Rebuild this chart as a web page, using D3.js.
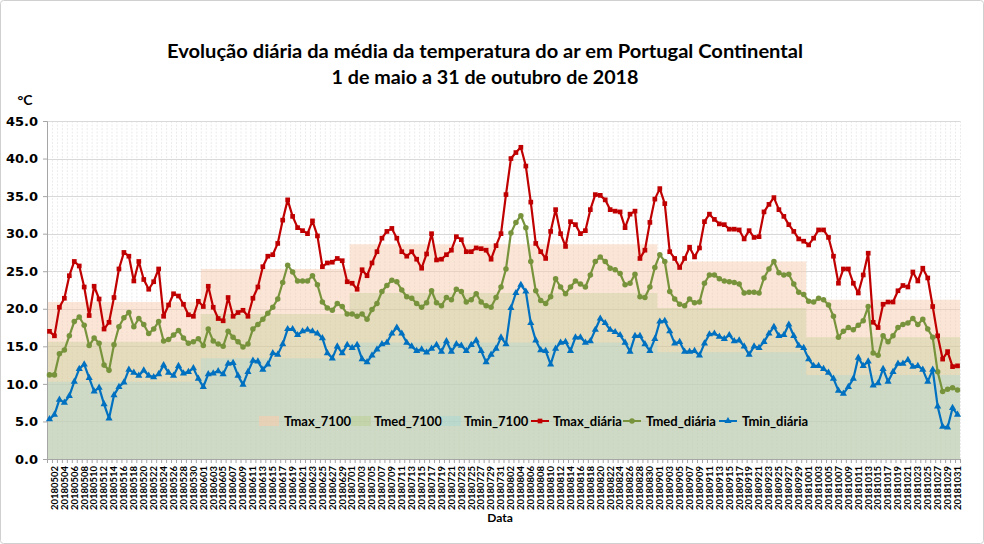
<!DOCTYPE html>
<html><head><meta charset="utf-8">
<script src="https://cdn.jsdelivr.net/npm/d3@7"></script>
<style>body{margin:0;background:#fff}svg{display:block}</style>
</head><body><svg id="c" width="984" height="544"></svg>
<script>
// ---- DATA ----
const months = ["201805","201806","201807","201808","201809","201810"];
const tmax7100 = [20.9, 25.3, 28.6, 28.6, 26.3, 21.2];
const tmed7100 = [15.6, 19.3, 22.1, 22.1, 20.1, 16.2];
const tmin7100 = [10.3, 13.4, 15.5, 15.5, 14.2, 11.2];

const tmaxDiaria = [
 17.0,16.4,20.2,21.4,24.4,26.3,25.7,22.9,19.1,23.0,21.3,17.3,18.2,21.5,25.3,27.5,27.0,23.7,26.3,23.9,22.6,23.6,25.3,19.0,20.5,22.0,21.7,20.6,19.2,19.0,21.0,
 20.3,23.0,20.2,18.7,18.4,21.5,19.0,19.5,19.8,19.0,21.4,22.9,25.6,27.0,27.2,28.7,31.8,34.5,32.3,30.8,30.4,30.0,31.7,29.7,25.6,26.1,26.2,26.7,26.4,23.6,
 23.4,22.6,25.2,24.4,26.1,27.6,29.4,30.3,30.7,29.4,27.6,27.0,27.6,26.6,25.4,27.3,30.0,26.5,26.6,27.2,27.8,29.6,29.2,27.6,27.6,28.1,28.0,27.8,26.6,28.4,30.0,
 35.2,40.0,40.8,41.5,39.0,34.2,28.7,27.6,26.7,30.3,33.2,30.0,28.3,31.6,31.2,30.0,30.4,33.2,35.2,35.1,34.5,33.2,33.0,32.9,30.8,32.6,33.0,26.7,27.8,31.5,34.6,
 36.0,34.0,27.6,26.7,25.5,26.7,28.2,26.9,28.1,31.6,32.6,31.9,31.3,31.2,30.6,30.6,30.5,29.3,30.4,29.5,29.6,32.9,33.9,34.8,33.2,32.3,31.2,30.3,29.3,29.0,
 28.5,29.4,30.5,30.5,29.5,27.0,23.4,25.3,25.3,23.4,22.1,24.5,27.4,18.2,17.5,20.6,20.9,20.9,22.4,23.1,22.9,24.9,23.7,25.4,24.1,20.3,16.4,13.3,14.3,12.3,12.4
];
const tmedDiaria = [
 11.2,11.2,14.0,14.5,16.4,18.3,18.9,17.8,15.1,16.1,15.4,12.5,11.8,15.2,17.6,18.8,19.5,17.6,18.7,17.9,16.7,17.3,18.3,15.7,15.9,16.5,17.1,16.1,15.4,15.6,16.0,
 15.1,17.3,15.7,15.3,15.0,17.0,16.2,15.6,14.9,15.3,17.3,17.9,18.6,19.4,20.2,21.3,23.5,25.8,24.9,23.7,23.7,23.7,24.4,23.2,20.9,20.1,19.8,20.7,20.3,19.3,
 19.3,19.0,19.3,18.6,19.9,20.7,22.3,23.1,23.8,23.6,22.5,21.6,21.4,20.7,20.2,20.8,22.4,20.8,20.4,21.5,21.2,22.6,22.3,20.9,21.2,22.0,20.9,20.4,20.2,21.5,22.9,
 25.3,30.1,31.5,32.4,30.8,26.3,22.4,21.1,20.7,21.6,24.0,22.9,22.0,22.9,23.7,23.3,22.9,24.5,26.3,26.9,26.3,25.4,25.2,24.7,23.2,23.4,24.6,21.6,21.5,22.9,25.5,
 27.2,26.3,22.3,21.3,20.6,20.4,21.3,20.8,20.9,23.4,24.5,24.5,24.0,23.7,23.6,23.5,23.3,22.1,22.2,22.2,22.1,24.1,25.3,26.3,24.8,24.5,24.6,23.3,22.2,21.9,
 21.0,20.9,21.4,21.2,20.5,19.0,16.2,17.0,17.5,17.2,17.8,18.4,20.3,14.1,13.8,16.4,15.6,16.4,17.5,17.9,18.1,18.7,17.9,18.6,17.3,16.2,11.6,9.0,9.3,9.5,9.2
];
const tminDiaria = [
 5.3,5.9,7.9,7.5,8.4,10.3,12.0,12.6,10.8,9.0,9.5,7.3,5.4,8.5,9.6,10.2,11.9,11.5,11.1,11.8,11.1,10.9,11.3,12.5,11.5,11.1,12.4,11.4,11.6,12.1,10.7,
 9.6,11.3,11.4,11.7,11.3,12.7,12.8,11.1,9.9,11.6,13.1,13.0,11.9,12.6,14.1,13.9,15.3,17.3,17.3,16.5,17.0,17.2,17.0,16.7,16.1,14.1,13.4,15.0,14.1,15.2,
 14.8,15.2,13.3,12.9,13.8,14.6,15.3,15.5,16.7,17.5,16.7,15.5,15.0,14.4,14.6,14.2,14.7,15.2,14.3,15.7,14.3,15.3,15.1,14.4,15.2,15.8,14.4,12.9,13.9,14.7,16.2,
 15.3,20.1,22.1,23.2,22.3,18.1,15.8,14.5,14.4,12.6,14.7,15.5,15.6,14.4,16.2,16.2,15.5,15.7,17.2,18.7,18.1,17.2,16.9,16.5,15.5,14.3,16.4,16.4,15.3,14.4,16.0,
 18.3,18.4,17.0,15.4,15.6,14.3,14.3,14.4,13.8,15.4,16.6,16.7,16.3,16.0,16.5,15.7,15.8,15.0,13.9,15.0,14.8,15.6,16.7,17.6,16.4,16.5,17.9,16.4,15.1,14.8,
 13.3,12.4,12.4,12.0,11.5,10.7,9.1,8.7,9.6,10.7,13.5,12.4,13.0,9.8,10.1,12.0,10.3,11.6,12.7,12.7,13.2,12.3,12.4,11.9,10.3,11.9,7.0,4.3,4.2,6.8,5.9
];
const yTicks = [0,5,10,15,20,25,30,35,40,45];
const titleLines = ["Evolução diária da média da temperatura do ar em Portugal Continental",
                    "1 de maio a 31 de outubro de 2018"];
const seriesNames = ["Tmax_7100","Tmed_7100","Tmin_7100","Tmax_diária","Tmed_diária","Tmin_diária"];

// categories: every day from 1 May to 31 Oct 2018
const cats = d3.timeDay.range(new Date(2018,4,1), new Date(2018,10,1)).map(d3.timeFormat("%Y%m%d"));

// ---- CHART ----
const svg = d3.select("#c");
const L = 47, R = 960, T = 121, B = 459;
const x = d3.scaleBand().domain(cats).range([L, R]).padding(0);
const bw = x.bandwidth();
const y = d3.scaleLinear().domain([0,45]).range([B, T]);
const cx = i => x(cats[i]) + bw/2;

svg.append("rect").attr("x",0.5).attr("y",0.5).attr("width",983).attr("height",543)
  .attr("rx",3).attr("fill","#fff").attr("stroke","#d0d0d0");

// gridlines
const g = svg.append("g");
g.selectAll("line.v").data(cats.slice(1).map(c=>x(c)).concat([R])).join("line")
  .attr("x1",d=>d+0.5).attr("x2",d=>d+0.5).attr("y1",T).attr("y2",B)
  .attr("stroke","#e2e2e2").attr("stroke-width",0.7).attr("stroke-dasharray","2,1.5");
g.selectAll("line.h").data(yTicks.filter(v=>v>0)).join("line")
  .attr("x1",L).attr("x2",R).attr("y1",d=>Math.round(y(d))+0.5).attr("y2",d=>Math.round(y(d))+0.5)
  .attr("stroke","#d9d9d9").attr("stroke-width",1);

// normal areas (monthly steps)
function stepPts(vals){
  const pts = [];
  months.forEach((m,i)=>{
    const mc = cats.filter(c=>c.startsWith(m));
    pts.push([x(mc[0]), vals[i]]);
    pts.push([x(mc[mc.length-1]) + bw, vals[i]]);
  });
  return pts;
}
const area = d3.area().x(d=>d[0]).y0(y(0)).y1(d=>y(d[1]));
const areaStyles = [
  {vals:tmax7100, fill:"#f8cbad", op:0.5},
  {vals:tmed7100, fill:"#b9cb8c", op:0.35},
  {vals:tmin7100, fill:"#a5d7d7", op:0.35}
];
areaStyles.forEach(s=>{
  svg.append("path").attr("d", area(stepPts(s.vals))).attr("fill",s.fill).attr("fill-opacity",s.op);
});

// axes
const yAxis = svg.append("g").attr("transform",`translate(${L},0)`)
  .call(d3.axisLeft(y).tickValues(yTicks).tickFormat(d3.format(".1f")).tickSize(4).tickPadding(5));
yAxis.select(".domain").attr("stroke","#a6a6a6");
yAxis.selectAll(".tick line").attr("stroke","#a6a6a6");
yAxis.selectAll("text").attr("font-family","DejaVu Sans").attr("font-weight","bold")
  .attr("font-size",13).attr("fill","#000");

const xAxis = svg.append("g").attr("transform",`translate(0,${B})`);
xAxis.append("line").attr("x1",L).attr("x2",R).attr("y1",0.5).attr("y2",0.5).attr("stroke","#a6a6a6");
xAxis.selectAll("line.t").data(cats.map(c=>x(c)).concat([R])).join("line")
  .attr("x1",d=>d+0.5).attr("x2",d=>d+0.5).attr("y1",0).attr("y2",4).attr("stroke","#a6a6a6");
const xl = svg.append("g").attr("transform",`translate(0,${B})`)
  .call(d3.axisBottom(x).tickValues(cats.filter((c,i)=>i%2===1)).tickSize(0).tickPadding(0));
xl.select(".domain").remove();
xl.selectAll("text").attr("transform","rotate(-90)").attr("text-anchor","end")
  .attr("x",-7).attr("y",0).attr("dy","0.35em")
  .attr("font-family","Lato").attr("font-weight","bold").attr("font-size",9.5).attr("fill","#000");

// lines + markers
const line = d3.line().x((d,i)=>cx(i)).y(d=>y(d));
const series = [
  {vals:tmaxDiaria, color:"#c00000", sym:d3.symbolSquare, size:22},
  {vals:tmedDiaria, color:"#77933c", sym:d3.symbolCircle, size:24},
  {vals:tminDiaria, color:"#0070c0", sym:d3.symbolTriangle, size:22}
];
series.forEach(s=>{
  svg.append("path").attr("d",line(s.vals)).attr("fill","none").attr("stroke",s.color)
    .attr("stroke-width",2.2).attr("stroke-linejoin","round");
  svg.append("g").selectAll("path").data(s.vals).join("path")
    .attr("transform",(d,i)=>`translate(${cx(i)},${y(d)})`)
    .attr("d",d3.symbol().type(s.sym).size(s.size)).attr("fill",s.color);
});

// legend
const lg = svg.append("g").attr("font-family","Lato").attr("font-weight","bold").attr("font-size",13).attr("fill","#000");
const ly = 421;
const sw = [{x:259,name:seriesNames[0],st:areaStyles[0],tx:284},
            {x:351,name:seriesNames[1],st:areaStyles[1],tx:374},
            {x:441,name:seriesNames[2],st:areaStyles[2],tx:464}];
sw.forEach(s=>{
  lg.append("rect").attr("x",s.x).attr("y",ly-5).attr("width",20).attr("height",10)
    .attr("fill",s.st.fill).attr("fill-opacity",s.st.op+0.1);
  lg.append("text").attr("x",s.tx).attr("y",ly).attr("dy","0.35em").text(s.name);
});
const lw = [{x:531,name:seriesNames[3],s:series[0],tx:553},
            {x:623,name:seriesNames[4],s:series[1],tx:646},
            {x:719,name:seriesNames[5],s:series[2],tx:742}];
lw.forEach(o=>{
  lg.append("line").attr("x1",o.x).attr("x2",o.x+18).attr("y1",ly).attr("y2",ly)
    .attr("stroke",o.s.color).attr("stroke-width",2);
  lg.append("path").attr("transform",`translate(${o.x+9},${ly})`)
    .attr("d",d3.symbol().type(o.s.sym).size(o.s.size)).attr("fill",o.s.color);
  lg.append("text").attr("x",o.tx).attr("y",ly).attr("dy","0.35em").text(o.name);
});

// titles
svg.append("text").attr("x",485).attr("y",58).attr("text-anchor","middle")
  .attr("font-family","Lato").attr("font-weight","bold").attr("font-size",18).attr("fill","#000")
  .attr("textLength",636).attr("lengthAdjust","spacingAndGlyphs").text(titleLines[0]);
svg.append("text").attr("x",485).attr("y",84).attr("text-anchor","middle")
  .attr("font-family","Lato").attr("font-weight","bold").attr("font-size",18).attr("fill","#000")
  .attr("textLength",307).attr("lengthAdjust","spacingAndGlyphs").text(titleLines[1]);

svg.append("text").attr("x",25).attr("y",105).attr("text-anchor","middle")
  .attr("font-family","Lato").attr("font-weight","bold").attr("font-size",14).attr("fill","#000").text("°C");
svg.append("text").attr("x",500).attr("y",522).attr("text-anchor","middle")
  .attr("font-family","Lato").attr("font-weight","bold").attr("font-size",12).attr("fill","#000").text("Data");
</script></body></html>
